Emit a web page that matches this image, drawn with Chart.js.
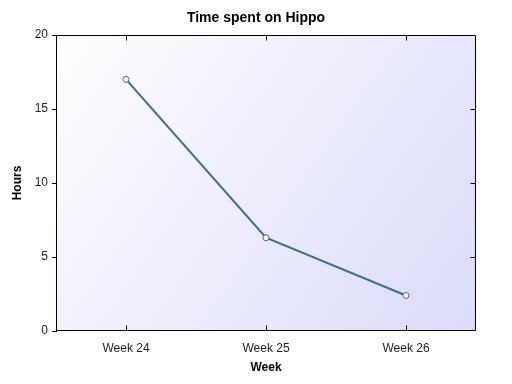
<!DOCTYPE html>
<html>
<head>
<meta charset="utf-8">
<script src="https://cdn.jsdelivr.net/npm/chart.js@4/dist/chart.umd.min.js"></script>
<style>
html,body{margin:0;padding:0;background:#fff;}
#wrap{width:512px;height:384px;}
</style>
</head>
<body>
<div id="wrap"><canvas id="c" width="512" height="384"></canvas></div>
<script>
const weeks = ["Week 24", "Week 25", "Week 26"];
const hours = [17.0, 6.3, 2.4];
const yTicks = [0, 5, 10, 15, 20];

const FONT = "'Liberation Sans', Arial, sans-serif";

const framePlugin = {
  id: 'frame',
  beforeDraw(chart) {
    const {ctx, chartArea: a} = chart;
    const g = ctx.createLinearGradient(a.left, a.top, a.right, a.bottom);
    g.addColorStop(0, '#ffffff');
    g.addColorStop(1, '#dadafb');
    ctx.save();
    ctx.fillStyle = g;
    ctx.fillRect(a.left, a.top, a.right - a.left, a.bottom - a.top);
    ctx.restore();
  },
  afterDraw(chart) {
    const {ctx, chartArea: a, scales} = chart;
    ctx.save();
    ctx.strokeStyle = '#000';
    ctx.lineWidth = 1;
    const L = Math.round(a.left) + 0.5, R = Math.round(a.right) - 0.5;
    const T = Math.round(a.top) + 0.5, B = Math.round(a.bottom) - 0.5;
    ctx.beginPath();
    ctx.rect(L, T, R - L, B - T);
    const xs = scales.x;
    for (let i = 0; i < xs.ticks.length; i++) {
      const px = Math.round(xs.getPixelForTick(i)) + 0.5;
      ctx.moveTo(px, B); ctx.lineTo(px, B - 5);
      ctx.moveTo(px, T); ctx.lineTo(px, T + 5);
    }
    const ys = scales.y;
    for (let i = 0; i < ys.ticks.length; i++) {
      const v = ys.ticks[i].value;
      if (v === ys.min || v === ys.max) continue;
      const py = Math.round(ys.getPixelForTick(i)) + 0.5;
      ctx.moveTo(R, py); ctx.lineTo(R - 5, py);
    }
    ctx.stroke();
    ctx.restore();
  }
};

new Chart(document.getElementById('c'), {
  type: 'line',
  data: {
    labels: weeks,
    datasets: [{
      data: hours,
      borderColor: '#3c6b96',
      borderWidth: 2,
      pointRadius: 3,
      pointHoverRadius: 3,
      pointBackgroundColor: '#ffffff',
      pointBorderColor: '#3c6b96',
      pointBorderWidth: 1,
      tension: 0,
      fill: false
    }]
  },
  options: {
    responsive: false,
    animation: false,
    events: [],
    layout: { padding: 0 },
    plugins: {
      legend: { display: false },
      tooltip: { enabled: false },
      title: {
        display: true,
        text: 'Time spent on Hippo',
        color: '#000',
        font: { family: FONT, size: 14, weight: 'bold' },
        padding: { top: 10, bottom: 8.2 }
      }
    },
    scales: {
      x: {
        type: 'category',
        offset: true,
        grid: { display: false },
        border: { display: false },
        ticks: {
          color: '#222',
          font: { family: FONT, size: 12 },
          padding: 2,
          maxRotation: 0
        },
        title: {
          display: true,
          text: 'Week',
          color: '#000',
          font: { family: FONT, size: 12, weight: 'bold' },
          padding: { top: 0, bottom: 9 }
        },
        afterFit(s) { s.height = 53; }
      },
      y: {
        min: 0,
        max: 20,
        afterBuildTicks(s) { s.ticks = yTicks.map(v => ({ value: v })); },
        grid: {
          drawOnChartArea: false,
          drawTicks: true,
          tickLength: 4,
          color: '#000'
        },
        border: { display: true, color: '#000' },
        ticks: {
          color: '#222',
          font: { family: FONT, size: 12 },
          padding: 4
        },
        title: {
          display: true,
          text: 'Hours',
          color: '#000',
          font: { family: FONT, size: 12, weight: 'bold' },
          padding: { top: 10, bottom: 0 }
        },
        afterFit(s) { s.width = 56; }
      },
      yRight: {
        position: 'right',
        display: true,
        min: 0,
        max: 20,
        grid: { display: false },
        border: { display: false },
        ticks: { display: false },
        afterFit(s) { s.width = 36; }
      }
    }
  },
  plugins: [framePlugin]
});
</script>
</body>
</html>
